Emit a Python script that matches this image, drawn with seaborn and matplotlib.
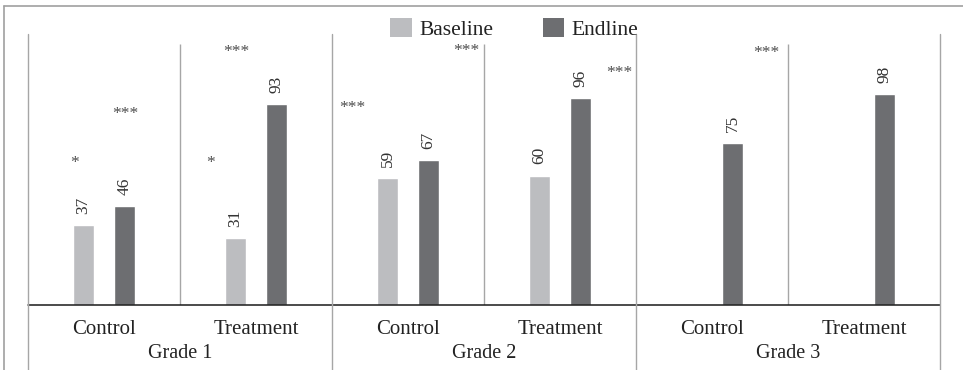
import numpy as np
import pandas as pd
import matplotlib
matplotlib.use("Agg")
import matplotlib.pyplot as plt
from matplotlib.lines import Line2D
from matplotlib.patches import Patch
from matplotlib.transforms import blended_transform_factory
import seaborn as sns

# ---- data -------------------------------------------------------------
grades = ["Grade 1", "Grade 2", "Grade 3"]
arms = ["Control", "Treatment"]
rounds = ["Baseline", "Endline"]
baseline = [37, 31, 59, 60, np.nan, np.nan]
endline = [46, 93, 67, 96, 75, 98]
stars = ["*", "***", "*", "***", "***", "***", "***", "***"]

# ---- layout -----------------------------------------------------------
W, H = 963, 370
star_xy = [(-0.194, 65.7), (0.137, 88.4), (0.698, 65.9), (0.871, 117.3),
           (1.635, 91.1), (2.385, 117.7), (3.387, 107.7), (4.358, 117.0)]
light, dark = "#BCBDC0", "#6D6E71"
rule = "#A6A6A6"
ink = "#222222"

slots = [f"{g} {a}" for g in grades for a in arms]
df = pd.DataFrame({
    "slot": slots * 2,
    "round": ["Baseline"] * len(slots) + ["Endline"] * len(slots),
    "score": baseline + endline,
}).dropna()

sns.set_theme(style="white")
plt.rcParams["font.family"] = "serif"
plt.rcParams["font.serif"] = ["Liberation Serif", "Times New Roman",
                              "DejaVu Serif"]

fig = plt.figure(figsize=(W / 100, H / 100), dpi=100)
ax = fig.add_axes([28 / W, 65 / H, 912 / W, 261 / H])

sns.barplot(data=df, x="slot", y="score", hue="round", order=slots,
            hue_order=rounds, palette=[light, dark], saturation=1,
            width=0.54, gap=0.49, errorbar=None, legend=False, ax=ax)

ax.set_xlim(-0.5, len(slots) - 0.5)
ax.set_ylim(0, 121)
for s in ax.spines.values():
    s.set_visible(False)
ax.set_xticks([])
ax.set_yticks([])
ax.set_xlabel("")
ax.set_ylabel("")

# value labels
for cont in ax.containers:
    ax.bar_label(cont, fmt="%.0f", rotation=90, padding=8, fontsize=12.5,
                 color="#333333")

# baseline axis and separators
ax.axhline(0, color="#1a1a1a", lw=1.1, zorder=5, clip_on=False)
ax.vlines([0.5, 2.5, 4.5], 0, 121, color=rule, lw=1.0)
tr = blended_transform_factory(ax.transData, fig.transFigure)
for xb in [-0.5, 1.5, 3.5, 5.5]:
    fig.add_artist(Line2D([xb, xb], [0, 1 - 34 / H], transform=tr,
                          color=rule, lw=1.0))

# category and grade labels
for i, s in enumerate(slots):
    ax.text(i, 1 - 334 / H, arms[i % 2], transform=tr, ha="center",
            va="baseline", fontsize=15, color=ink)
for g, name in enumerate(grades):
    ax.text(2 * g + 0.5, 1 - 358 / H, name, transform=tr, ha="center",
            va="baseline", fontsize=14.5, color=ink)

# significance marks
for (sx, sy), st in zip(star_xy, stars):
    ax.text(sx, sy, st, ha="center", va="center", fontsize=12.5,
            color="#4d4d4d", clip_on=False)

# legend
handles = [Patch(facecolor=light, edgecolor="none"),
           Patch(facecolor=dark, edgecolor="none")]
fig.legend(handles, rounds, loc="center", bbox_to_anchor=(0.534, 1 - 29 / H),
           ncol=2, frameon=False, fontsize=15.5, handlelength=1.0,
           handleheight=1.0, handletextpad=0.35, columnspacing=2.3,
           labelcolor=ink)

# outer frame (top and left edges)
fig.add_artist(Line2D([4 / W, 4 / W], [0, 1 - 6 / H], transform=fig.transFigure,
                      color="#A0A0A0", lw=1.2))
fig.add_artist(Line2D([4 / W, 1], [1 - 6 / H, 1 - 6 / H],
                      transform=fig.transFigure, color="#A0A0A0", lw=1.2))

fig.savefig("out.png", dpi=100, facecolor="white")
